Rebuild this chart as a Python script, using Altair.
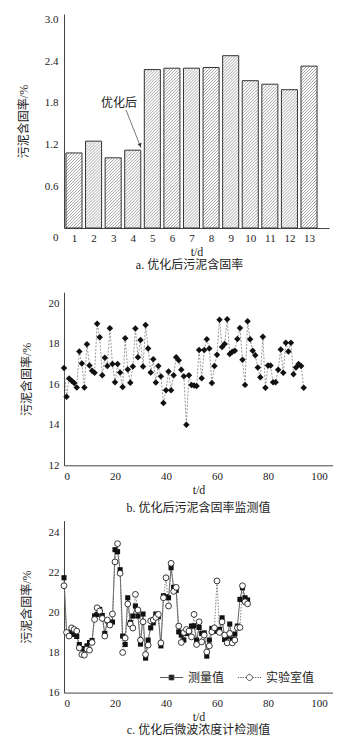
import math
import altair as alt
import pandas as pd

# ---------------- data ----------------
days_a = list(range(1, 14))
solid_a = [1.08, 1.25, 1.01, 1.12, 2.28, 2.30, 2.30, 2.31, 2.48, 2.12, 2.07, 1.99, 2.33]
a_yticks = [0, 0.6, 1.2, 1.8, 2.4, 3.0]

days_b = list(range(0, 95))
solid_b = [16.80, 15.38, 16.29, 16.17, 16.06, 15.84, 17.62, 17.03, 15.84, 17.97,
           16.93, 16.67, 16.57, 18.99, 18.32, 16.45, 17.31, 16.90, 18.76, 17.00,
           16.10, 17.00, 16.58, 15.86, 18.27, 16.73, 16.07, 16.88, 18.75, 17.33,
           18.18, 16.88, 18.93, 17.77, 16.58, 17.23, 16.09, 16.90, 16.39, 15.07,
           15.71, 16.63, 15.71, 16.45, 17.33, 17.18, 16.72, 16.39, 14.00, 16.45,
           15.96, 15.94, 15.91, 17.69, 16.30, 17.69, 18.22, 17.77, 16.06, 16.90,
           17.46, 19.19, 17.84, 17.99, 19.21, 17.49, 17.61, 17.66, 18.23, 18.78,
           17.21, 15.97, 19.11, 18.22, 17.66, 17.43, 16.83, 16.35, 18.35, 15.83,
           16.93, 16.93, 16.10, 16.10, 16.72, 17.72, 16.57, 18.05, 17.62, 18.05,
           16.49, 16.83, 17.00, 16.90, 15.83]
b_xticks = [0, 20, 40, 60, 80, 100]
b_yticks = [12, 14, 16, 18, 20]

days_c = list(range(0, 73))
meas_c = [21.73, 19.00, 18.92, 19.00, 18.90, 18.80, 18.40, 18.20, 18.17, 18.33,
          18.50, 18.60, 19.83, 19.90, 20.15, 19.85, 18.95, 19.58, 19.48, 19.52,
          23.13, 23.03, 22.13, 18.82, 18.40, 20.73, 19.50, 19.82, 20.32, 19.82,
          18.42, 19.92, 17.72, 18.62, 19.23, 19.48, 19.92, 19.78, 18.33, 20.83,
          20.78, 20.73, 22.23, 21.25, 21.10, 19.03, 18.87, 18.62, 18.95, 19.07,
          19.32, 19.33, 18.62, 19.25, 18.95, 18.98, 17.82, 18.62, 19.20, 19.07,
          19.07, 19.15, 19.73, 18.65, 18.78, 19.42, 18.65, 18.92, 19.32, 20.65,
          21.23, 20.73, 20.62]
lab_c = [21.33, 19.00, 18.82, 19.23, 19.15, 19.07, 18.23, 17.90, 17.87, 18.17,
         18.12, 18.50, 19.65, 20.23, 20.07, 19.70, 18.82, 19.62, 19.37, 19.92,
         22.52, 23.43, 21.95, 18.00, 18.72, 20.42, 19.42, 19.22, 20.90, 20.12,
         18.62, 19.53, 17.90, 18.37, 19.58, 19.62, 19.75, 19.90, 18.48, 20.73,
         21.73, 20.32, 22.45, 21.05, 21.25, 19.32, 18.50, 19.00, 19.15, 19.07,
         18.78, 19.90, 18.40, 19.53, 18.53, 18.87, 18.03, 18.33, 19.03, 19.23,
         21.57, 19.00, 19.53, 18.87, 18.48, 18.95, 18.48, 18.62, 19.23, 19.25,
         21.33, 20.53, 20.43]
c_yticks = [16, 18, 20, 22, 24]
series_names = ["测量值", "实验室值"]

FONT = "'Liberation Serif', 'Noto Sans CJK SC'"
YTITLE = "污泥含固率/%"

# ---------------- panel a ----------------
WA, HA = 265, 214
XA = [0.49, 14.02]
YA = [0, 3.08]
HW = 0.41
PX = WA / (XA[1] - XA[0])
PY = HA / (YA[1] - YA[0])
S = PX / PY            # slope giving 45 degree hatch in pixels
DK = 3.0 / PY          # hatch spacing
NNEG = math.ceil(2 * HW * S / DK) + 1

df_a = pd.DataFrame({"t": days_a, "v": solid_a})


def x_axis_a():
    return alt.Axis(values=days_a, format="d", title="t/d", labelPadding=4,
                    titlePadding=3, labelFontSize=11, titleFontSize=12)


def y_axis_a():
    return alt.Axis(values=a_yticks, title=YTITLE,
                    labelExpr="datum.value == 0 ? '0' : format(datum.value, '.1f')",
                    labelOffset={"condition": {"test": "datum.value == 0", "value": 9}, "value": 0},
                    labelPadding=6, minExtent=30, maxExtent=30, titlePadding=4,
                    labelFontSize=11, titleFontSize=12)


xsa = alt.Scale(domain=XA, nice=False, zero=False)
ysa = alt.Scale(domain=YA, nice=False)

base_a = alt.Chart(df_a).transform_calculate(
    xl=f"datum.t - {HW}", xr=f"datum.t + {HW}")

bars_fill = base_a.mark_rect(fill="white").encode(
    x=alt.X("xl:Q", scale=xsa, axis=x_axis_a()),
    x2="xr:Q",
    y=alt.Y("v:Q", scale=ysa, axis=y_axis_a()),
    y2=alt.datum(0),
)

hatch = base_a.transform_calculate(
    ks=f"sequence({-NNEG}, ceil(datum.v / {DK}) + 2)"
).transform_flatten(["ks"]).transform_calculate(
    k=f"datum.ks * {DK}"
).transform_calculate(
    xa=f"max(datum.xl, datum.xl - datum.k / {S})"
).transform_calculate(
    ya=f"datum.k + {S} * (datum.xa - datum.xl)"
).transform_calculate(
    xb=f"min(datum.xr, datum.xl + (datum.v - datum.k) / {S})"
).transform_calculate(
    yb=f"datum.k + {S} * (datum.xb - datum.xl)"
).transform_filter("datum.xb > datum.xa + 0.01").mark_rule(
    color="#6a6a6a", strokeWidth=0.6
).encode(
    x=alt.X("xa:Q", scale=xsa, axis=x_axis_a()),
    x2="xb:Q",
    y=alt.Y("ya:Q", scale=ysa, axis=y_axis_a()),
    y2="yb:Q",
)

bars_line = base_a.mark_rect(fillOpacity=0, stroke="#333333", strokeWidth=1).encode(
    x=alt.X("xl:Q", scale=xsa, axis=x_axis_a()),
    x2="xr:Q",
    y=alt.Y("v:Q", scale=ysa, axis=y_axis_a()),
    y2=alt.datum(0),
)

ann_text = pd.DataFrame({"x": [3.30], "y": [1.80], "label": ["优化后"]})
ann_arrow = pd.DataFrame({"x": [3.655], "y": [1.70], "x2": [4.42], "y2": [1.153]})
ann_head = pd.DataFrame({"x": [4.38], "y": [1.19]})

txt_a = alt.Chart(ann_text).mark_text(font=FONT, fontSize=12, color="#222").encode(
    x=alt.X("x:Q", scale=xsa, axis=x_axis_a()),
    y=alt.Y("y:Q", scale=ysa, axis=y_axis_a()),
    text="label:N",
)
arrow_a = alt.Chart(ann_arrow).mark_rule(color="#555", strokeWidth=0.8).encode(
    x=alt.X("x:Q", scale=xsa, axis=x_axis_a()),
    y=alt.Y("y:Q", scale=ysa, axis=y_axis_a()),
    x2="x2:Q", y2="y2:Q",
)
head_a = alt.Chart(ann_head).mark_point(
    shape="triangle-up", angle=159, size=18, filled=True, color="#333", opacity=1
).encode(
    x=alt.X("x:Q", scale=xsa, axis=x_axis_a()),
    y=alt.Y("y:Q", scale=ysa, axis=y_axis_a()),
)

panel_a = alt.layer(bars_fill, hatch, bars_line, arrow_a, head_a, txt_a).properties(
    width=WA, height=HA,
    title=alt.TitleParams(["a. 优化后污泥含固率", " "], orient="bottom", anchor="middle",
                          frame="group", offset=3, dx=-7, fontSize=12, lineHeight=14.5,
                          font=FONT, fontWeight="normal", color="#222"),
)

# ---------------- panel b ----------------
WB, HB = 269, 173
df_b = pd.DataFrame({"t": days_b, "v": solid_b})
xsb = alt.Scale(domain=[0, 105.5], nice=False)
ysb = alt.Scale(domain=[12, 20.54], nice=False)


def x_axis_b():
    return alt.Axis(values=b_xticks, title="t/d", labelPadding=5, titlePadding=3,
                    labelFontSize=11, titleFontSize=12)


def x_axis_c():
    return alt.Axis(values=b_xticks, title="t/d", labelPadding=5, titlePadding=3,
                    labelFontSize=11, titleFontSize=12)


def y_axis_b():
    return alt.Axis(values=b_yticks, title=YTITLE, labelPadding=5, minExtent=27,
                    maxExtent=27, titlePadding=4, labelFontSize=11, titleFontSize=12)


line_b = alt.Chart(df_b).mark_line(color="#808080", strokeWidth=0.8, strokeDash=[2, 1.5]).encode(
    x=alt.X("t:Q", scale=xsb, axis=x_axis_b()),
    y=alt.Y("v:Q", scale=ysb, axis=y_axis_b()),
)
pts_b = alt.Chart(df_b).mark_point(shape="diamond", filled=True, color="#111", size=42, opacity=1).encode(
    x=alt.X("t:Q", scale=xsb, axis=x_axis_b()),
    y=alt.Y("v:Q", scale=ysb, axis=y_axis_b()),
)
panel_b = alt.layer(line_b, pts_b).properties(
    width=WB, height=HB,
    title=alt.TitleParams("b. 优化后污泥含固率监测值", orient="bottom", anchor="middle",
                          frame="group", offset=8, fontSize=12, font=FONT,
                          fontWeight="normal", color="#222"),
)

# ---------------- panel c ----------------
WC, HC = 269, 172
df_cm = pd.DataFrame({"t": days_c, "v": meas_c, "s": series_names[0]})
df_cl = pd.DataFrame({"t": days_c, "v": lab_c, "s": series_names[1]})
df_c = pd.concat([df_cm, df_cl], ignore_index=True)
ysc = alt.Scale(domain=[16, 24.58], nice=False)


def y_axis_c():
    return alt.Axis(values=c_yticks, title=YTITLE, labelPadding=5, minExtent=27,
                    maxExtent=27, titlePadding=4, labelFontSize=11, titleFontSize=12)


PATH_M = "M-2.9,0H2.9M-0.6,-0.6H0.6V0.6H-0.6Z"
PATH_L = ("M-2.9,0H-2.6M-2.3,0H-2.0M-1.7,0H-1.4M-1.1,0H-0.8"
          "M0.8,0H1.1M1.4,0H1.7M2.0,0H2.3M2.6,0H2.9"
          "M0.75,0A0.75,0.75,0,1,1,-0.75,0A0.75,0.75,0,1,1,0.75,0Z")

legend_c = alt.Legend(
    title=None, orient="none", legendX=101.5, legendY=657.5, direction="horizontal",
    symbolSize=64, labelOffset=10.5, columnPadding=11, labelFontSize=12,
    labelFont=FONT, labelColor="#222", symbolStrokeWidth=0.9,
    symbolStrokeColor="#444",
)

line_cm = alt.Chart(df_cm).mark_line(color="#555", strokeWidth=0.9).encode(
    x=alt.X("t:Q", scale=xsb, axis=x_axis_c()),
    y=alt.Y("v:Q", scale=ysc, axis=y_axis_c()),
)
line_cl = alt.Chart(df_cl).mark_line(color="#777", strokeWidth=0.9, strokeDash=[1.5, 1.5]).encode(
    x=alt.X("t:Q", scale=xsb, axis=x_axis_c()),
    y=alt.Y("v:Q", scale=ysc, axis=y_axis_c()),
)
pts_cm = alt.Chart(df_cm).mark_point(shape="square", filled=True, color="#111", opacity=1, size=26).encode(
    x=alt.X("t:Q", scale=xsb, axis=x_axis_c()),
    y=alt.Y("v:Q", scale=ysc, axis=y_axis_c()),
)
pts_cl = alt.Chart(df_cl).mark_point(shape="circle", filled=False, fill="white", stroke="#222",
                                      strokeWidth=0.9, opacity=1, fillOpacity=1, size=34).encode(
    x=alt.X("t:Q", scale=xsb, axis=x_axis_c()),
    y=alt.Y("v:Q", scale=ysc, axis=y_axis_c()),
)
# legend carrier (no marks drawn, only the legend)
leg_c = alt.Chart(df_c).transform_filter("false").mark_point(
    filled=False, strokeWidth=0.9, opacity=1
).encode(
    x=alt.X("t:Q", scale=xsb, axis=x_axis_c()),
    y=alt.Y("v:Q", scale=ysc, axis=y_axis_c()),
    shape=alt.Shape("s:N", scale=alt.Scale(domain=series_names, range=[PATH_M, PATH_L]),
                    legend=legend_c),
    fill=alt.Fill("s:N", scale=alt.Scale(domain=series_names, range=["#111111", "#ffffff"]),
                  legend=legend_c),
    stroke=alt.Stroke("s:N", scale=alt.Scale(domain=series_names, range=["#444444", "#444444"]),
                      legend=legend_c),
)
panel_c = alt.layer(line_cm, line_cl, pts_cm, pts_cl, leg_c).properties(
    width=WC, height=HC,
    title=alt.TitleParams("c. 优化后微波浓度计检测值", orient="bottom", anchor="middle",
                          frame="group", offset=2.5, fontSize=12, font=FONT,
                          fontWeight="normal", color="#222"),
)

chart = alt.vconcat(panel_a, panel_b, panel_c, spacing=6.3).properties(
    padding={"left": 17, "top": 13, "right": 0, "bottom": 0},
).configure_view(stroke=None).configure_axis(
    domainColor="#444", domainWidth=1, labelColor="#222", titleColor="#222",
    labelFont=FONT, titleFont=FONT, titleFontWeight="normal", grid=False, ticks=False,
).configure_legend(labelFont=FONT)

chart.save("out.html", embed_options={"renderer": "svg", "actions": False})
